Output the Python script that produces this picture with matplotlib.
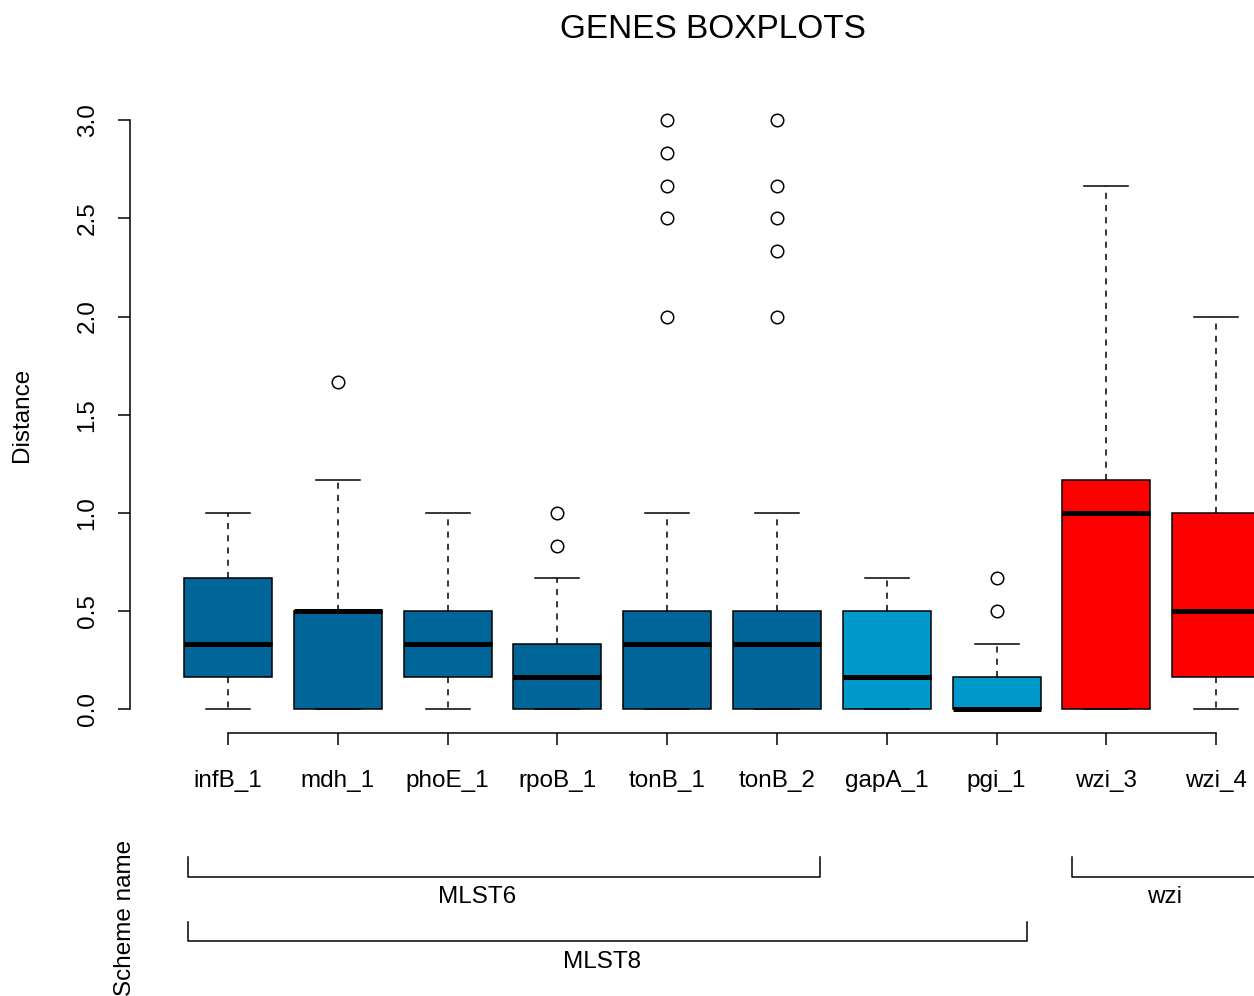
import matplotlib
matplotlib.use("Agg")
import matplotlib.pyplot as plt
import matplotlib.transforms as mtransforms
import numpy as np

plt.rcParams['font.family'] = ['Liberation Sans', 'DejaVu Sans']

# gene boxplot summaries
genes = ["infB_1", "mdh_1", "phoE_1", "rpoB_1", "tonB_1", "tonB_2",
         "gapA_1", "pgi_1", "wzi_3", "wzi_4"]
whislo = [0, 0, 0, 0, 0, 0, 0, 0, 0, 0]
q1 = [1/6, 0, 1/6, 0, 0, 0, 0, 0, 0, 1/6]
med = [1/3, 0.5, 1/3, 1/6, 1/3, 1/3, 1/6, 0, 1.0, 0.5]
q3 = [2/3, 0.5, 0.5, 1/3, 0.5, 0.5, 0.5, 1/6, 7/6, 1.0]
whishi = [1.0, 7/6, 1.0, 2/3, 1.0, 1.0, 2/3, 1/3, 8/3, 2.0]
fliers = [[], [5/3], [], [5/6, 1.0],
          [2.0, 2.5, 8/3, 17/6, 3.0],
          [2.0, 7/3, 2.5, 8/3, 3.0],
          [], [0.5, 2/3], [], []]
box_colors = ["#006699"] * 6 + ["#0099CC"] * 2 + ["#FF0000"] * 2

# scheme groups below the axis
schemes = ["MLST6", "MLST8", "wzi"]
scheme_x0 = [0.635, 0.635, 8.69]
scheme_x1 = [6.39, 8.28, 10.6]
scheme_row = [0, 1, 0]
scheme_label_x = [3.27, 4.41, 9.53]

yticks = [0.0, 0.5, 1.0, 1.5, 2.0, 2.5, 3.0]

W, H = 1254, 996
fig = plt.figure(figsize=(W / 100, H / 100), dpi=100)
ax = fig.add_axes([130 / W, (H - 733) / H, (W - 130) / W, (733 - 96.5) / H])

stats = []
for i, g in enumerate(genes):
    stats.append(dict(label=g, whislo=whislo[i], q1=q1[i], med=med[i],
                      q3=q3[i], whishi=whishi[i], fliers=fliers[i]))

pos = np.arange(1, len(genes) + 1)
bp = ax.bxp(stats, positions=pos, widths=0.8, patch_artist=True,
            showfliers=True,
            boxprops=dict(edgecolor="black", linewidth=1.1),
            medianprops=dict(color="black", linewidth=3.6, solid_capstyle="butt"),
            whiskerprops=dict(color="black", linewidth=1.1, linestyle=(0, (4, 4))),
            capprops=dict(color="black", linewidth=1.1),
            flierprops=dict(marker="o", markerfacecolor="none",
                            markeredgecolor="black", markersize=9,
                            markeredgewidth=1.1, linestyle="none"))
for patch, c in zip(bp["boxes"], box_colors):
    patch.set_facecolor(c)

ax.set_xlim(1 - 98 / 109.8, 1 + 1026 / 109.8)
ax.set_ylim(-0.12, 3.12)

for s in ["top", "right"]:
    ax.spines[s].set_visible(False)
ax.spines["left"].set_bounds(0, 3)
ax.spines["bottom"].set_bounds(1, len(genes))
ax.spines["left"].set_linewidth(1.1)
ax.spines["bottom"].set_linewidth(1.1)

ax.set_yticks(yticks)
ax.set_yticklabels([f"{t:.1f}" for t in yticks], rotation=90, va="center")
ax.set_xticks(pos)
ax.set_xticklabels(genes)
ax.tick_params(axis="both", length=8.6, width=1.1, labelsize=17.5)
ax.tick_params(axis="y", pad=14)
ax.tick_params(axis="x", pad=18)

fig.text(713 / W, 1 - 38.3 / H, "GENES BOXPLOTS", ha="center",
         va="baseline", fontsize=24)
fig.text(22 / W, 1 - 414.5 / H, "Distance", rotation=90, ha="center",
         va="center", fontsize=17.5)
fig.text(125 / W, 1 - 918 / H, "Scheme name", rotation=90, ha="center",
         va="center", fontsize=17.5)

# scheme brackets
tr = mtransforms.blended_transform_factory(ax.transData, fig.transFigure)
row_top = [857, 922]
row_bot = [877, 941]
row_text = [897, 962]
for name, x0, x1, r, lx in zip(schemes, scheme_x0, scheme_x1,
                               scheme_row, scheme_label_x):
    y0 = 1 - row_top[r] / H
    y1 = 1 - row_bot[r] / H
    ax.plot([x0, x0, x1, x1], [y0, y1, y1, y0], color="black", lw=1.1,
            transform=tr, clip_on=False)
    ax.text(lx, 1 - row_text[r] / H, name, transform=tr, ha="center",
            va="center", fontsize=17.5)

fig.savefig("out.png", dpi=100)
